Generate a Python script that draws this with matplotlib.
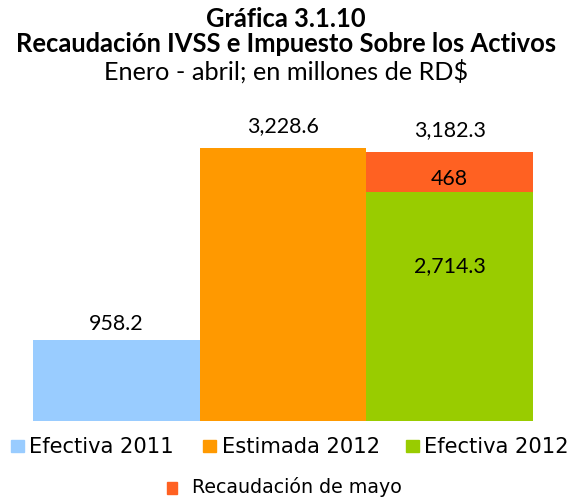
import matplotlib
matplotlib.use('Agg')
import matplotlib.pyplot as plt
from matplotlib.patches import Rectangle

categories = ['Efectiva 2011', 'Estimada 2012', 'Efectiva 2012']
values = [958.2, 3228.6, 2714.3]
mayo_value = 468
mayo_label = 'Recaudación de mayo'
colors = ['#99CCFF', '#FF9900', '#99CC00']
mayo_color = '#FF6122'

title = 'Gráfica 3.1.10'
title2 = 'Recaudación IVSS e Impuesto Sobre los Activos'
subtitle = 'Enero - abril; en millones de RD$'

W, H = 572, 499
fig = plt.figure(figsize=(W / 100, H / 100), dpi=100)


def fx(x):
    return x / W


def fy(y):
    return 1 - y / H


# bars fill the plot area edge to edge, no axes drawn
ax = fig.add_axes([fx(33), fy(420.7), fx(500), 295.4 / H])
x = list(range(len(categories)))
ax.bar(x, values, width=1.0, color=colors)
ax.bar(x[-1], mayo_value, bottom=values[-1], width=1.0, color=mayo_color)
ax.set_xlim(-0.5, 2.5)
ax.set_ylim(0, 3500)
ax.axis('off')

num_font = dict(family='Lato', fontsize=15.4, color='black')

# totals above the bars
totals = values[:-1] + [values[-1] + mayo_value]
gaps = [10, 16, 16]
for i, (t, g) in enumerate(zip(totals, gaps)):
    ax.annotate(f'{t:,.1f}', (i, t), xytext=(0, g), textcoords='offset pixels',
                ha='center', va='baseline', **num_font)

# labels inside the last bar
ax.text(x[-1], values[-1] * 0.649, f'{values[-1]:,.1f}', ha='center', va='baseline', **num_font)
ax.text(x[-1], values[-1] + mayo_value * 0.155, f'{mayo_value:,}', ha='center', va='baseline', **num_font)

# titles
fig.text(0.5, fy(27), title, ha='center', va='baseline', family='Lato',
         fontweight='bold', fontsize=18.4)
fig.text(0.5, fy(51.5), title2, ha='center', va='baseline', family='Lato',
         fontweight='bold', fontsize=18.4)
fig.text(0.5, fy(80), subtitle, ha='center', va='baseline', family='Lato',
         fontsize=18.2)

# legend, first row
sq_x = [11, 203, 406]
txt_x = [29, 222, 424]
for c, lab, sx, tx in zip(colors, categories, sq_x, txt_x):
    fig.patches.append(Rectangle((fx(sx), fy(452)), fx(13), 12 / H, color=c,
                                 transform=fig.transFigure, figure=fig))
    fig.text(fx(tx), fy(453.3), lab, ha='left', va='baseline', family='DejaVu Sans',
             fontsize=15.1)

# legend, second row
fig.patches.append(Rectangle((fx(167), fy(494)), fx(10), 12 / H, color=mayo_color,
                             transform=fig.transFigure, figure=fig))
fig.text(fx(192), fy(493), mayo_label, ha='left', va='baseline', family='DejaVu Sans',
         fontsize=13.7)

fig.savefig('out.png', dpi=100)
